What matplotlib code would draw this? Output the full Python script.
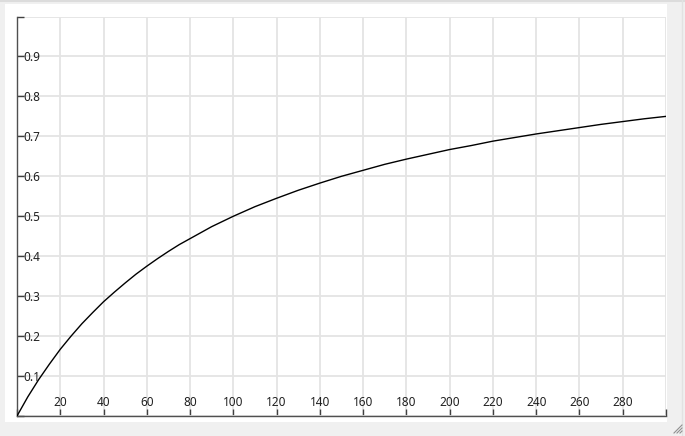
import matplotlib.pyplot as plt
from matplotlib.patches import Rectangle
from matplotlib.lines import Line2D

# values
x = [0, 5, 10, 15, 20, 25, 30, 35, 40, 45, 50, 55, 60, 65, 70, 75, 80, 85, 90, 95,
     100, 110, 120, 130, 140, 150, 160, 170, 180, 190, 200, 210, 220, 230, 240,
     250, 260, 270, 280, 290, 300]
y = [0.0, 0.048, 0.091, 0.130, 0.167, 0.200, 0.231, 0.259, 0.286, 0.310, 0.333,
     0.355, 0.375, 0.394, 0.412, 0.429, 0.444, 0.459, 0.474, 0.487,
     0.500, 0.524, 0.545, 0.565, 0.583, 0.600, 0.615, 0.630, 0.643, 0.655,
     0.667, 0.677, 0.688, 0.697, 0.706, 0.714, 0.722, 0.730, 0.737, 0.744, 0.750]

xticks = list(range(0, 301, 20))
xlabels = ['' if v in (0, 300) else str(v) for v in xticks]
yticks = [round(i * 0.1, 1) for i in range(11)]
ylabels = ['' if v in (0.0, 1.0) else str(v) for v in yticks]

plt.rcParams['font.family'] = ['Noto Sans', 'DejaVu Sans']

W, H = 685, 436
fig = plt.figure(figsize=(W / 100, H / 100), dpi=100)
fig.patch.set_facecolor('#f0f0f0')

# white client area of the window
fig.add_artist(Rectangle((5 / W, 1 - 422 / H), (667 - 5) / W, (422 - 4) / H,
                         transform=fig.transFigure, facecolor='white',
                         edgecolor='none', zorder=0))
# outer window border lines
fig.add_artist(Line2D([0, 1], [1 - 1.5 / H, 1 - 1.5 / H], transform=fig.transFigure,
                      color='#dcdcdc', lw=1.5))
fig.add_artist(Line2D([682 / W, 682 / W], [0, 1], transform=fig.transFigure,
                      color='#e2e2e2', lw=1))

# resize grip
for k in range(3):
    d = 3 * k + 2
    fig.add_artist(Line2D([(W - 3 - d) / W, (W - 3) / W], [3 / H, (3 + d) / H],
                          transform=fig.transFigure, color='#909090', lw=0.8))

left, right, top, bottom = 17, 666, 16.5, 416
ax = fig.add_axes([left / W, 1 - bottom / H, (right - left) / W, (bottom - top) / H])
ax.set_facecolor('white')
ax.patch.set_alpha(0)

ax.plot(x, y, color='black', lw=1.0, zorder=3)

ax.set_xlim(0, 300)
ax.set_ylim(0, 1.0)
ax.set_xticks(xticks)
ax.set_xticklabels(xlabels)
ax.set_yticks(yticks)
ax.set_yticklabels(ylabels)

ax.grid(True, color='#e4e4e4', lw=1.3)
ax.set_axisbelow(True)

for s in ['top', 'right']:
    ax.spines[s].set_visible(False)
for s in ['left', 'bottom']:
    ax.spines[s].set_color('#505050')
    ax.spines[s].set_linewidth(1.0)

ax.tick_params(axis='both', direction='in', length=5, width=1, color='#404040',
               labelsize=8.5, labelcolor='#202020')
ax.tick_params(axis='y', pad=-4.5)
ax.tick_params(axis='x', pad=-5)
for lab in ax.get_yticklabels():
    lab.set_horizontalalignment('left')
for lab in ax.get_xticklabels():
    lab.set_verticalalignment('bottom')

fig.savefig('out.png', dpi=100, facecolor=fig.get_facecolor())
